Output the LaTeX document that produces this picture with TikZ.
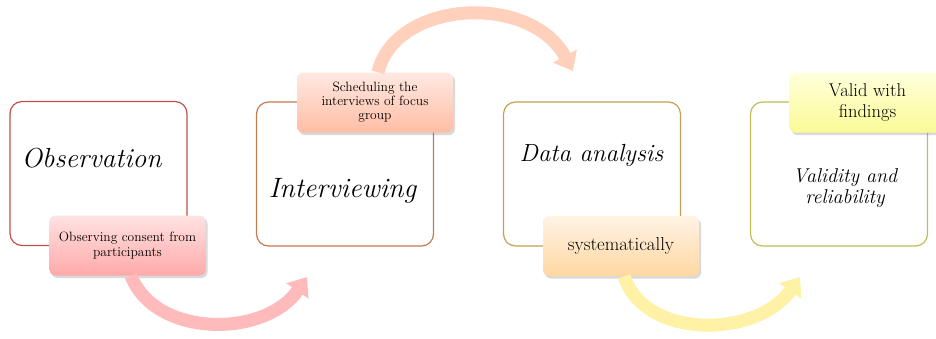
\documentclass[tikz,border=0pt]{standalone}
\usepackage{tikz}
\usetikzlibrary{shadows}
\usetikzlibrary{arrows.meta}
\usetikzlibrary{calc}

\definecolor{obsred}{HTML}{C0504D}
\definecolor{intbrown}{HTML}{C47A52}
\definecolor{datgold}{HTML}{C4A052}
\definecolor{valolive}{HTML}{BDBD55}
\definecolor{obstop}{HTML}{FFE2E2}
\definecolor{obsbot}{HTML}{FFA9A9}
\definecolor{schedtop}{HTML}{FFE9E2}
\definecolor{schedbot}{HTML}{FFBDA4}
\definecolor{systop}{HTML}{FFF3E4}
\definecolor{sysbot}{HTML}{FFD7A2}
\definecolor{validtop}{HTML}{FFFFDC}
\definecolor{validbot}{HTML}{FAFA96}
\definecolor{arrpink}{HTML}{FFBBBB}
\definecolor{arrpeach}{HTML}{FFD0BC}
\definecolor{arryellow}{HTML}{FFF1A6}

\tikzstyle{stagebox}=[rectangle,draw,line width=1.2pt,rounded corners=12pt,minimum width=177pt,minimum height=144pt,inner sep=0pt,fill=white]
\tikzstyle{stagetext}=[inner sep=0pt,align=center]
\tikzstyle{notebox}=[rectangle,rounded corners=6pt,minimum width=156pt,minimum height=60pt,inner sep=2pt,align=center,drop shadow={opacity=0.3,shadow xshift=2pt,shadow yshift=-2.5pt}]
\tikzstyle{flowarrow}=[draw,line width=13pt,-{Triangle[width=26pt,length=17pt]}]

\begin{document}
\begin{tikzpicture}[x=1pt,y=-1pt]

    \useasboundingbox (0,0) rectangle (936,338);
    \clip (0,0) rectangle (936,338);

    % the four stages
    \node[stagebox,draw=obsred] (obs) at (98.5,173.5) {};
    \node[stagebox,draw=intbrown] (int) at (345,174) {};
    \node[stagebox,draw=datgold] (dat) at (592,174) {};
    \node[stagebox,draw=valolive] (val) at (839,174) {};

    \node[stagetext,anchor=base,font=\fontsize{27.5}{30}\selectfont\itshape] (obstext) at (91.5,167) {Observation};
    \node[stagetext,anchor=base,font=\fontsize{28}{30}\selectfont\itshape] (inttext) at (342.5,197) {Interviewing};
    \node[stagetext,anchor=base,font=\fontsize{24.8}{28}\selectfont\itshape] (dattext) at (591.5,161) {Data analysis};
    \node[stagetext,font=\fontsize{20}{21}\selectfont\itshape] (valtext) at (845,188) {Validity and\\reliability};

    % notes on the stages
    \node[notebox,top color=obstop,bottom color=obsbot,font=\fontsize{13.5}{15}\selectfont] (obsnote) at (127.5,245.5) {Observing consent from\\participants};
    \node[notebox,top color=schedtop,bottom color=schedbot,font=\fontsize{13.5}{14}\selectfont] (schednote) at (375,102.5) {Scheduling the\\interviews of focus\\group};
    \node[notebox,top color=systop,bottom color=sysbot,font=\fontsize{18.8}{21}\selectfont] (sysnote) at (621,246) {systematically};
    \node[notebox,top color=validtop,bottom color=validbot,font=\fontsize{18.5}{20.5}\selectfont] (validnote) at (867.5,102.5) {Valid with\\findings};

    % curved arrows between the stages
    \coordinate (arr1) at (307,277);
    \coordinate (arr2) at (573,71);
    \coordinate (arr3) at (800,277);

    \draw[flowarrow,color=arrpink] ($(obsnote.south)+(3.5,0)$) .. controls (155,338) and (265,338) .. (arr1);
    \draw[flowarrow,color=arrpeach] ($(schednote.north)+(3,0)$) .. controls (395,0) and (530,-8) .. (arr2);
    \draw[flowarrow,color=arryellow] ($(sysnote.south)+(3,0)$) .. controls (645,340) and (757,338) .. (arr3);

\end{tikzpicture}
\end{document}
